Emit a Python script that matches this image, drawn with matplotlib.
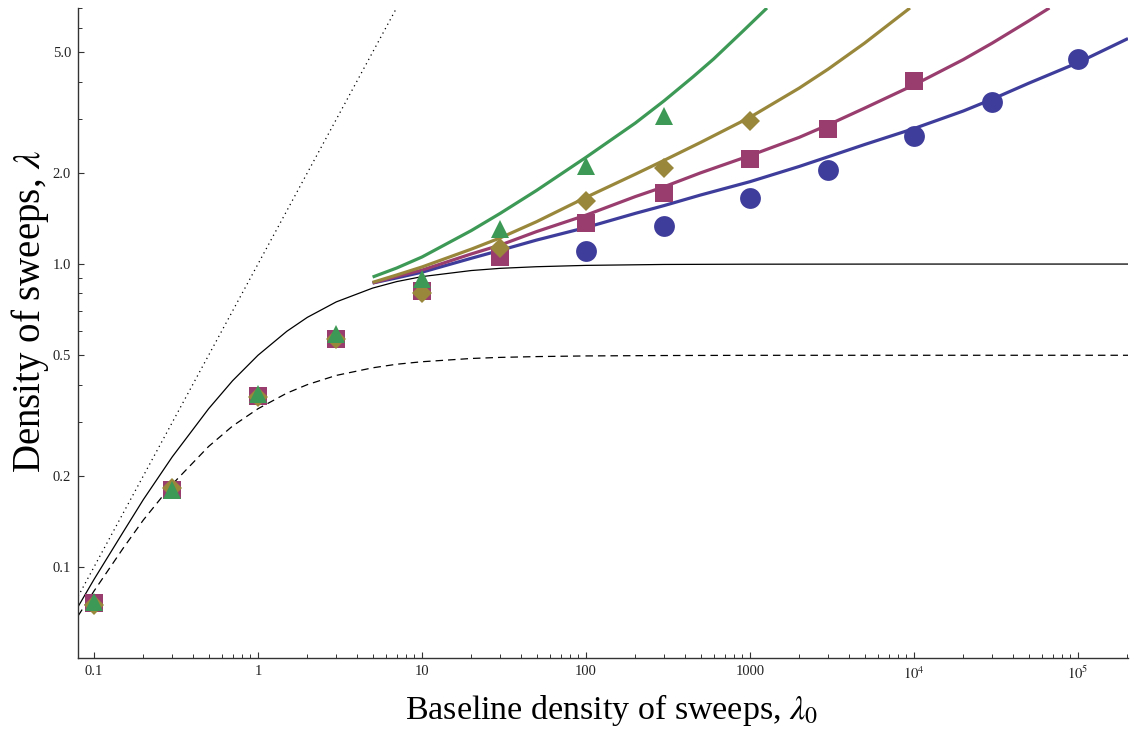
import matplotlib
matplotlib.use('Agg')
import matplotlib.pyplot as plt
from matplotlib.ticker import FixedLocator, FixedFormatter, NullFormatter

plt.rcParams['font.family'] = ['Liberation Serif', 'DejaVu Serif']
plt.rcParams['mathtext.fontset'] = 'stix'

# ---------------- data ----------------
# simulation points
x_circ = [100, 300, 1000, 3000, 1e4, 3e4, 1e5]
y_circ = [1.104, 1.335, 1.65, 2.04, 2.645, 3.42, 4.75]

x_sq = [0.1, 0.3, 1, 3, 10, 30, 100, 300, 1000, 3000, 1e4]
y_sq = [0.076, 0.1795, 0.367, 0.566, 0.815, 1.055, 1.365, 1.715, 2.22, 2.79, 4.02]

x_dia = [0.1, 0.3, 1, 3, 10, 30, 100, 300, 1000]
y_dia = [0.0748, 0.182, 0.365, 0.566, 0.80, 1.129, 1.614, 2.07, 2.96]

x_tri = [0.1, 0.3, 1, 3, 10, 30, 100, 300]
y_tri = [0.0767, 0.180, 0.372, 0.589, 0.89, 1.307, 2.10, 3.07]

# approximation curves
x_blue_c = [5, 7, 10, 20, 30, 50, 100, 200, 300, 500, 1000, 2000, 3000, 5000,
            1e4, 2e4, 3e4, 5e4, 1e5, 2.02e5]
y_blue_c = [0.866, 0.90, 0.94, 1.045, 1.11, 1.20, 1.32, 1.47, 1.56, 1.69, 1.87,
            2.10, 2.26, 2.48, 2.80, 3.20, 3.50, 3.95, 4.62, 5.55]

x_mag_c = [5, 7, 10, 20, 30, 50, 100, 200, 300, 500, 1000, 2000, 3000, 5000,
           1e4, 2e4, 3e4, 5e4, 6.7e4]
y_mag_c = [0.866, 0.91, 0.955, 1.08, 1.155, 1.28, 1.45, 1.67, 1.80, 2.0, 2.28,
           2.62, 2.88, 3.27, 3.90, 4.73, 5.36, 6.34, 7.0]

x_oli_c = [5, 7, 10, 20, 30, 50, 100, 200, 300, 500, 1000, 2000, 3000, 5000,
           9460]
y_oli_c = [0.87, 0.92, 0.978, 1.12, 1.22, 1.38, 1.66, 1.98, 2.2, 2.52, 3.05,
           3.81, 4.40, 5.36, 7.0]

x_grn_c = [5, 7, 10, 20, 30, 50, 100, 200, 300, 450, 600, 900, 1270]
y_grn_c = [0.906, 0.97, 1.055, 1.29, 1.47, 1.75, 2.25, 2.92, 3.46, 4.15, 4.75,
           5.85, 7.0]

# reference curves
x_ref = [0.08, 0.1, 0.15, 0.2, 0.3, 0.5, 0.7, 1, 1.5, 2, 3, 5, 7, 10, 20, 30,
         50, 100, 300, 1000, 1e4, 2.02e5]
y_solid = [0.074, 0.091, 0.130, 0.167, 0.231, 0.333, 0.412, 0.5, 0.6, 0.667,
           0.75, 0.833, 0.875, 0.909, 0.952, 0.968, 0.980, 0.990, 0.997, 0.999,
           1.0, 1.0]
y_dashed = [0.069, 0.0833, 0.115, 0.143, 0.1875, 0.25, 0.292, 0.333, 0.375,
            0.4, 0.429, 0.4545, 0.467, 0.476, 0.488, 0.492, 0.495, 0.4975,
            0.499, 0.4998, 0.5, 0.5]
x_dot = [0.08, 7.0]
y_dot = [0.08, 7.0]

# ticks
x_major = [0.1, 1, 10, 100, 1000, 1e4, 1e5]
x_major_labels = ['0.1', '1', '10', '100', '1000', '$10^4$', '$10^5$']
y_major = [0.1, 0.2, 0.5, 1.0, 2.0, 5.0]
y_major_labels = ['0.1', '0.2', '0.5', '1.0', '2.0', '5.0']
y_minor = [0.3, 0.4, 0.6, 0.7, 0.8, 0.9, 3, 4, 6, 7]

# colours
c_blue = '#3f3d9b'
c_mag = '#993d6e'
c_oli = '#99883c'
c_grn = '#3d9a56'

# ---------------- figure ----------------
fig = plt.figure(figsize=(11.4, 7.29), dpi=100)
ax = fig.add_axes([78 / 1140, 1 - 658 / 729, (1128 - 78) / 1140, (658 - 8) / 729])
ax.set_xscale('log')
ax.set_yscale('log')
ax.set_xlim(0.0799, 2.02e5)
ax.set_ylim(0.0501, 7.0)

ax.plot(x_dot, y_dot, color='black', lw=0.9, ls=(0, (1, 3)), zorder=1)
ax.plot(x_ref, y_solid, color='black', lw=0.9, zorder=1)
ax.plot(x_ref, y_dashed, color='black', lw=0.9, ls=(0, (6, 4)), zorder=1)

for xc, yc, c in [(x_blue_c, y_blue_c, c_blue), (x_mag_c, y_mag_c, c_mag),
                  (x_oli_c, y_oli_c, c_oli), (x_grn_c, y_grn_c, c_grn)]:
    ax.plot(xc, yc, color=c, lw=2.3, zorder=2, solid_capstyle='butt',
            solid_joinstyle='round')

ax.plot(x_circ, y_circ, 'o', color=c_blue, ms=15, mew=0, zorder=3)
ax.plot(x_sq, y_sq, 's', color=c_mag, ms=13.3, mew=0, zorder=4)
ax.plot(x_dia, y_dia, 'D', color=c_oli, ms=10.6, mew=0, zorder=5)
ax.plot(x_tri, y_tri, '^', color=c_grn, ms=13, mew=0, zorder=6)

# axes styling
for s in ['top', 'right']:
    ax.spines[s].set_visible(False)
for s in ['left', 'bottom']:
    ax.spines[s].set_color('#333333')
    ax.spines[s].set_linewidth(1.0)

ax.xaxis.set_major_locator(FixedLocator(x_major))
ax.xaxis.set_major_formatter(FixedFormatter(x_major_labels))
x_minor = [m * d for d in [0.1, 1, 10, 100, 1000, 1e4, 1e5] for m in range(2, 10)
           if m * d < 2.02e5]
ax.xaxis.set_minor_locator(FixedLocator(x_minor))
ax.xaxis.set_minor_formatter(NullFormatter())
ax.yaxis.set_major_locator(FixedLocator(y_major))
ax.yaxis.set_major_formatter(FixedFormatter(y_major_labels))
ax.yaxis.set_minor_locator(FixedLocator(y_minor))
ax.yaxis.set_minor_formatter(NullFormatter())

ax.tick_params(which='both', direction='in', colors='#333333', labelcolor='#222222',
               labelsize=10.5)
ax.tick_params(which='major', length=4.3, width=0.8, pad=5)
ax.tick_params(which='minor', length=2.6, width=0.7)

ax.set_xlabel(r'Baseline density of sweeps, $\lambda_0$', fontsize=24.5)
ax.set_ylabel(r'Density of sweeps, $\lambda$', fontsize=28)
ax.xaxis.set_label_coords(0.508, -0.053)
ax.yaxis.set_label_coords(-0.026, 0.533)

fig.savefig('out.png', dpi=100)
